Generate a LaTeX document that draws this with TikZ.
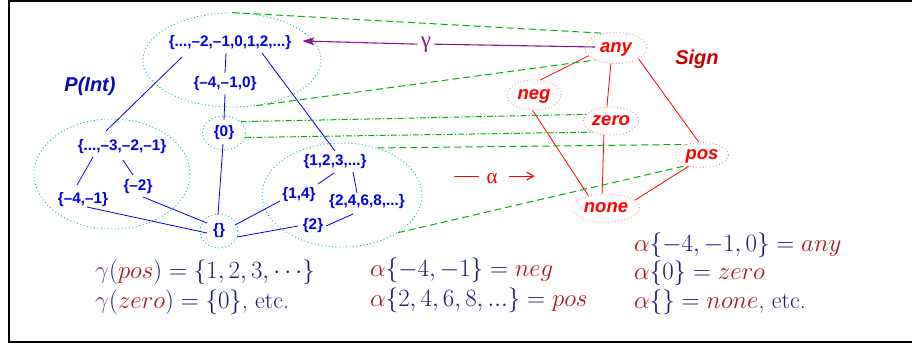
\documentclass[tikz,border=0pt]{standalone}
\usepackage{fontspec}
\usetikzlibrary{shapes.geometric,arrows.meta}
\newfontfamily\hel{Liberation Sans}
\newfontfamily\tms{Liberation Serif}
\definecolor{setblue}{RGB}{0,0,230}
\definecolor{pintblue}{RGB}{10,10,170}
\definecolor{signred}{RGB}{255,0,0}
\definecolor{signdark}{RGB}{200,0,0}
\definecolor{cyandot}{RGB}{0,180,180}
\definecolor{pinkdot}{RGB}{255,140,140}
\definecolor{mapgreen}{RGB}{0,175,0}
\definecolor{gampurple}{RGB}{140,20,140}
\definecolor{navy}{RGB}{25,25,110}
\definecolor{wred}{RGB}{170,20,30}
\definecolor{mpurple}{RGB}{120,50,150}
\begin{document}
\begin{tikzpicture}[x=1pt,y=-1pt,
  setnode/.style={text=setblue, font=\hel\bfseries\fontsize{15.3}{17}\selectfont, inner sep=1pt},
  region/.style={ellipse, draw=cyandot, line width=0.9pt, dash pattern=on 0.9pt off 2.6pt, inner sep=0pt},
  signnode/.style={ellipse, draw=pinkdot, line width=0.9pt, dash pattern=on 0.9pt off 2.4pt, text=signred, font=\hel\bfseries\itshape\fontsize{18.5}{20}\selectfont, inner sep=0pt, text height=13pt, text depth=4pt},
  blueline/.style={draw=setblue, line width=0.8pt},
  redline/.style={draw=signred, line width=0.8pt},
  mapdash/.style={draw=mapgreen, line width=1pt, dash pattern=on 7pt off 4pt},
  mapdashdot/.style={draw=mapgreen, line width=1pt, dash pattern=on 6pt off 2pt on 1.2pt off 2pt},
  eq/.style={anchor=base west, inner sep=0pt, text=navy, font=\fontsize{24}{28}\selectfont},
  lbl/.style={font=\hel\bfseries\itshape\fontsize{20}{22}\selectfont, inner sep=0pt},
]
\useasboundingbox (0,0) rectangle (912,343);
\draw[line width=2.4pt] (918,1.2) -- (9,1.2) -- (9,342) -- (918,342);

% regions of P(Int)
\node[region, minimum width=178pt, minimum height=94pt] (Etop) at (232,60) {};
\node[region, minimum width=156pt, minimum height=110pt] (Eleft) at (112,174) {};
\node[region, minimum width=160pt, minimum height=104pt] (Eright) at (342,195) {};

% P(Int) nodes
\node[setnode] (T) at (230,43) {\{...,–2,–1,0,1,2,...\}};
\node[setnode] (M) at (225,84) {\{–4,–1,0\}};
\node[setnode, region, minimum width=43pt, minimum height=34pt] (Z) at (224,133) {\{0\}};
\node[setnode] (L1) at (122,147) {\{...,–3,–2,–1\}};
\node[setnode] (L2) at (138,187) {\{–2\}};
\node[setnode] (L3) at (83,200) {\{–4,–1\}};
\node[setnode, region, minimum width=38pt, minimum height=34pt] (E) at (219,231) {\{\}};
\node[setnode] (R1) at (335,162) {\{1,2,3,...\}};
\node[setnode] (R2) at (299,195) {\{1,4\}};
\node[setnode] (R3) at (367,202) {\{2,4,6,8,...\}};
\node[setnode] (R4) at (313,226) {\{2\}};

\node[lbl, text=pintblue] (pint) at (90,86) {P(Int)};

% P(Int) lattice lines
\draw[blueline] ([shift={(-4,10)}]T.center) -- ([shift={(0,-11)}]M.center);
\draw[blueline] ([shift={(-48,14)}]T.center) -- ([shift={(-16,-16)}]L1.center);
\draw[blueline] ([shift={(32,10)}]T.center) -- ([shift={(0,-11)}]R1.center);
\draw[blueline] ([shift={(0,10)}]M.center) -- ([shift={(0,-13)}]Z.center);
\draw[blueline] ([shift={(-1,11)}]Z.center) -- ([shift={(-1,-16)}]E.center);
\draw[blueline] ([shift={(-29,10)}]L1.center) -- ([shift={(-6,-15)}]L3.center);
\draw[blueline] ([shift={(1,13)}]L1.center) -- ([shift={(-5,-12)}]L2.center);
\draw[blueline] ([shift={(4,7)}]L3.center) -- ([shift={(-12,2)}]E.center);
\draw[blueline] ([shift={(5,10)}]L2.center) -- ([shift={(-12,-8)}]E.center);
\draw[blueline] ([shift={(-1,11)}]R1.center) -- ([shift={(19,-11)}]R2.center);
\draw[blueline] ([shift={(18,10)}]R1.center) -- ([shift={(-10,-9)}]R3.center);
\draw[blueline] ([shift={(-19,6)}]R2.center) -- ([shift={(16,-6)}]E.center);
\draw[blueline] ([shift={(-15,0)}]R4.center) -- ([shift={(18,6)}]E.center);
\draw[blueline] ([shift={(-14,12)}]R3.center) -- ([shift={(13,0)}]R4.center);

% Sign lattice
\node[signnode, minimum width=62pt, minimum height=31pt] (any) at (616,48) {any};
\node[signnode, minimum width=54pt, minimum height=30pt] (neg) at (534,95) {neg};
\node[signnode, minimum width=55pt, minimum height=28pt] (zero) at (611,121) {zero};
\node[signnode, minimum width=53pt, minimum height=25pt] (pos) at (702,155) {pos};
\node[signnode, minimum width=67pt, minimum height=28pt] (none) at (606,208) {none};
\node[lbl, text=signdark] (signlbl) at (697,59) {Sign};

\draw[redline] (any.196) -- (neg.67);
\draw[redline] (any.252) -- (zero.106);
\draw[redline] (any.334) -- (pos.104);
\draw[redline] (neg.265) -- (none.145);
\draw[redline] (zero.243) -- (none.105);
\draw[redline] (pos.220) -- (none.15);

% abstraction mapping
\draw[mapdash] (Etop.north) -- (any.129);
\draw[mapdash] (Etop.298) -- (any.210);
\draw[mapdashdot] (Z.34) -- (zero.165);
\draw[mapdashdot] (Z.-12) -- (zero.212);
\draw[mapdash] (Eright.53) -- (pos.146);
\draw[mapdash] (Eright.-34) -- (pos.214);

% gamma
\node[text=gampurple, font=\tms\fontsize{23}{26}\selectfont, anchor=base, inner sep=1pt] (gam) at (426,47) {γ};
\draw[draw=gampurple, line width=1.1pt] ([shift={(-21,-1)}]any.center) -- ([xshift=2pt]gam.east);
\draw[draw=gampurple, line width=1.1pt, -{Stealth[length=12pt,width=8pt,inset=3pt]}] ([xshift=-2pt]gam.west) -- ([shift={(10,-2)}]T.east);

% alpha
\node[text=signred, font=\tms\fontsize{21}{24}\selectfont, anchor=base, inner sep=0pt] (alph) at (492,183) {α};
\draw[redline, line width=1.1pt] ([shift={(-7,-2)}]alph.west) -- ++(-25,0);
\draw[redline, line width=1.1pt, -{Straight Barb[length=7pt,width=8pt]}] ([shift={(11,-2)}]alph.east) -- ++(26,0);

% equations
\node[eq] (g1) at (95,278) {$\textcolor{mpurple}{\gamma}(\textcolor{wred}{pos}) = \{1,2,3,\cdots\}$};
\node[eq] (g2) at (95,308) {$\textcolor{mpurple}{\gamma}(\textcolor{wred}{zero}) = \{0\}$, etc.};
\node[eq] (a1) at (370,276) {$\textcolor{wred}{\alpha}\{-4,-1\} = \textcolor{wred}{neg}$};
\node[eq] (a2) at (370,306) {$\textcolor{wred}{\alpha}\{2,4,6,8,...\} = \textcolor{wred}{pos}$};
\node[eq] (a3) at (634,251) {$\textcolor{wred}{\alpha}\{-4,-1,0\} = \textcolor{wred}{any}$};
\node[eq] (a4) at (634,279) {$\textcolor{wred}{\alpha}\{0\} = \textcolor{wred}{zero}$};
\node[eq] (a5) at (634,308) {$\textcolor{wred}{\alpha}\{\} = \textcolor{wred}{none}$, etc.};
\end{tikzpicture}
\end{document}
